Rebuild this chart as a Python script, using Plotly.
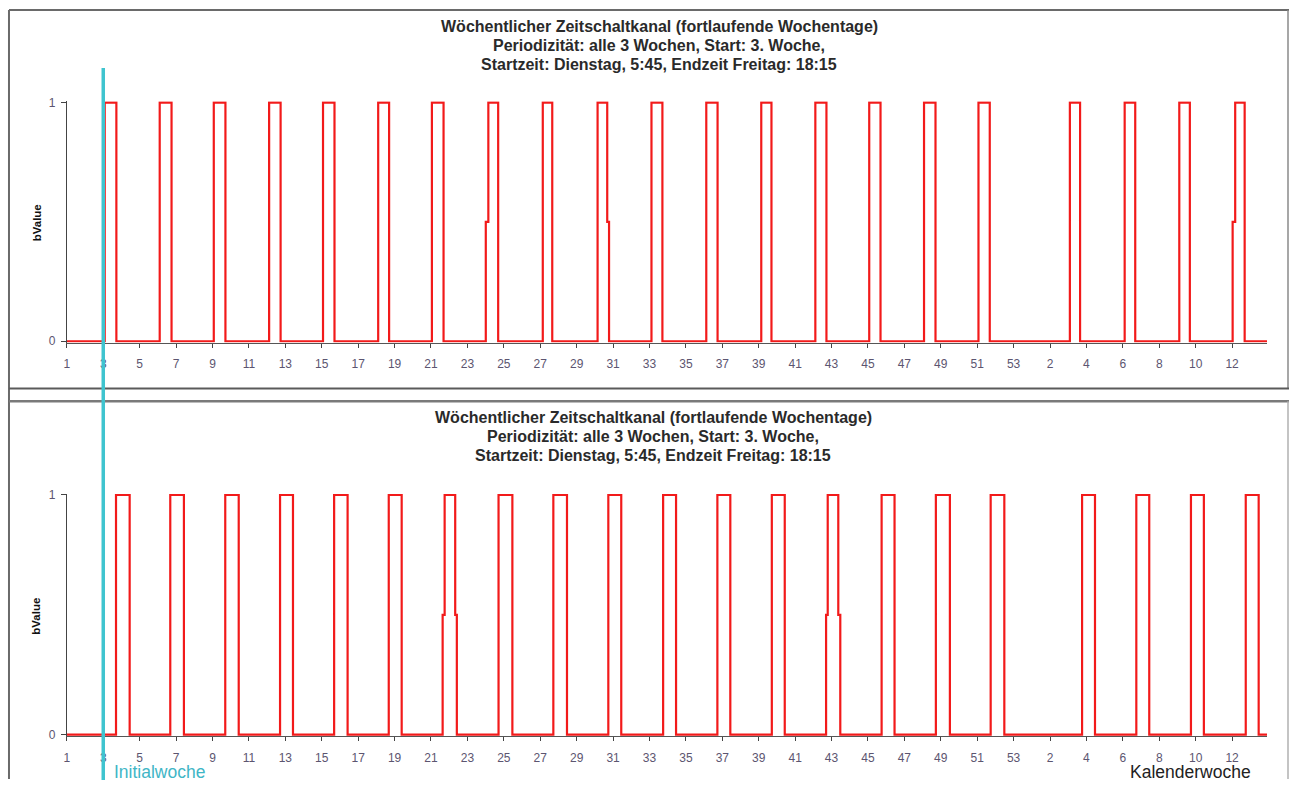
import plotly.graph_objects as go

W, H = 1289, 785

# Calendar-week axis: continuous week index, the year wraps after week 53
tick_vals = list(range(1, 66, 2))
tick_text = [str(v) for v in range(1, 54, 2)] + [str(v) for v in range(2, 13, 2)]
x_end = 66.92

title_lines = [
    "Wöchentlicher Zeitschaltkanal (fortlaufende Wochentage)",
    "Periodizität: alle 3 Wochen, Start: 3. Woche,",
    "Startzeit: Dienstag, 5:45, Endzeit Freitag: 18:15",
]

# Upper channel: switch-on / switch-off edges (week index)
top_rise_low = [3.08, 6.10, 9.07, 12.11, 15.07, 18.10, 21.05, 24.01, 27.14, 30.15, 33.11,
                36.12, 39.14, 42.11, 45.07, 48.08, 51.07, 56.09, 59.10, 62.10, 65.03]
top_rise_high = [3.08, 6.10, 9.07, 12.11, 15.07, 18.10, 21.05, 24.15, 27.14, 30.15, 33.11,
                 36.12, 39.14, 42.11, 45.07, 48.08, 51.07, 56.09, 59.10, 62.10, 65.17]
top_fall_high = [3.72, 6.75, 9.71, 12.74, 15.70, 18.70, 21.69, 24.69, 27.66, 30.68, 33.71,
                 36.74, 39.70, 42.72, 45.69, 48.71, 51.69, 56.65, 59.68, 62.68, 65.69]
top_fall_low = [3.72, 6.75, 9.71, 12.74, 15.70, 18.70, 21.69, 24.69, 27.66, 30.78, 33.71,
                36.74, 39.70, 42.72, 45.69, 48.71, 51.69, 56.65, 59.68, 62.68, 65.69]

# Lower channel
bot_rise_low = [3.70, 6.68, 9.70, 12.71, 15.68, 18.68, 21.64, 24.71, 27.72, 30.74, 33.75,
                36.73, 39.72, 42.70, 45.75, 48.73, 51.74, 56.76, 59.74, 62.74, 65.75]
bot_rise_high = [3.70, 6.68, 9.70, 12.71, 15.68, 18.68, 21.75, 24.71, 27.72, 30.74, 33.75,
                 36.73, 39.72, 42.79, 45.75, 48.73, 51.74, 56.76, 59.74, 62.74, 65.75]
bot_fall_high = [4.45, 7.43, 10.44, 13.42, 16.42, 19.39, 22.33, 25.47, 28.47, 31.45, 34.46,
                 37.44, 40.43, 43.37, 46.46, 49.50, 52.49, 57.47, 60.45, 63.45, 66.46]
bot_fall_low = [4.45, 7.43, 10.44, 13.42, 16.42, 19.39, 22.42, 25.47, 28.47, 31.45, 34.46,
                37.44, 40.43, 43.48, 46.46, 49.50, 52.49, 57.47, 60.45, 63.45, 66.46]

initial_week = 3


def step_signal(rl, rh, fh, fl):
    xs, ys = [1], [0]
    for a, b, c, d in zip(rl, rh, fh, fl):
        xs += [a, a, b, b, c, c, d, d]
        ys += [0, 0.5, 0.5, 1, 1, 0.5, 0.5, 0]
    xs.append(x_end)
    ys.append(0)
    return xs, ys


def px(x):
    return x / W


def py(y):
    return 1 - y / H


fig = go.Figure()

RED = "#f21a1a"
panels = [
    ("x", "y", step_signal(top_rise_low, top_rise_high, top_fall_high, top_fall_low)),
    ("x2", "y2", step_signal(bot_rise_low, bot_rise_high, bot_fall_high, bot_fall_low)),
]
for xa, ya, (xs, ys) in panels:
    fig.add_trace(go.Scatter(x=xs, y=ys, xaxis=xa, yaxis=ya, mode="lines",
                             line=dict(color=RED, width=2.2), hoverinfo="skip",
                             showlegend=False))

x_dom = [px(64), px(1267)]
top_dom = [py(342.5), py(97.5)]
bot_dom = [py(741.5), py(495.5)]

tick_font = dict(family="Liberation Sans, Arial", size=12, color="#5c5570")
xaxis_common = dict(range=[1, x_end], tickmode="array", tickvals=tick_vals, ticktext=tick_text,
                    showline=True, linecolor="#555555", linewidth=1, ticks="outside",
                    ticklen=4, tickcolor="#444444", showgrid=False, zeroline=False,
                    tickfont=tick_font, ticklabelstandoff=6, fixedrange=True)
yaxis_common = dict(range=[-0.006, 1.006], tickmode="array", tickvals=[0, 1],
                    ticktext=["0", "1"], showline=True, linecolor="#444444", linewidth=1,
                    ticks="outside", ticklen=5, tickcolor="#444444", showgrid=False,
                    zeroline=False, tickfont=tick_font, ticklabelstandoff=3, fixedrange=True)

fig.update_layout(
    width=W, height=H,
    margin=dict(l=0, r=0, t=0, b=0),
    paper_bgcolor="white", plot_bgcolor="white",
    xaxis=dict(domain=x_dom, anchor="y", **xaxis_common),
    yaxis=dict(domain=top_dom, anchor="x", **yaxis_common),
    xaxis2=dict(domain=x_dom, anchor="y2", **xaxis_common),
    yaxis2=dict(domain=bot_dom, anchor="x2", **yaxis_common),
    showlegend=False,
)

# Panel frames and separator
frame = dict(type="line", xref="paper", yref="paper", layer="above")
frame_lines = [
    ((6, 5), (1289, 5), "#6a6a6a", 2),
    ((6, 5), (6, 785), "#6a6a6a", 2),
    ((1288, 5), (1288, 389), "#8a8a8a", 1.5),
    ((6, 389), (1289, 389), "#5a5a5a", 2),
    ((6, 402), (1289, 402), "#7a7a7a", 2.5),
    ((1288, 402), (1288, 785), "#b0b0b0", 1.5),
]
for (x0, y0), (x1, y1), c, w in frame_lines:
    fig.add_shape(**frame, x0=px(x0), y0=py(y0), x1=px(x1), y1=py(y1),
                  line=dict(color=c, width=w))

# Marker for the initial week across both panels
fig.add_shape(type="line", xref="x", yref="paper", x0=initial_week, x1=initial_week,
              y0=py(64), y1=py(786), line=dict(color="#3fc4cf", width=3.5), layer="above")

title_font = dict(family="Liberation Sans, Arial", size=16, color="#2a2a2a")
for cx, ys in [(658, [21.5, 41.5, 60.5]), (652, [418.5, 438, 457])]:
    for line, yy in zip(title_lines, ys):
        fig.add_annotation(text=f"<b>{line}</b>", xref="paper", yref="paper",
                           x=px(cx), y=py(yy), xanchor="center", yanchor="middle",
                           showarrow=False, font=title_font)

for yy in (221, 620):
    fig.add_annotation(text="<b>bValue</b>", xref="paper", yref="paper", x=px(33.5), y=py(yy),
                       xanchor="center", yanchor="middle", textangle=-90, showarrow=False,
                       font=dict(family="Liberation Sans, Arial", size=11.5, color="#111111"))

bottom_label_font = dict(family="Liberation Sans, Arial", size=17.5)
fig.add_annotation(text="Initialwoche", xref="paper", yref="paper", x=px(109), y=py(777.5),
                   xanchor="left", yanchor="middle", showarrow=False,
                   font=dict(color="#3fb6c6", **bottom_label_font))
fig.add_annotation(text="Kalenderwoche", xref="paper", yref="paper", x=px(1253), y=py(777.5),
                   xanchor="right", yanchor="middle", showarrow=False,
                   font=dict(color="#222222", **bottom_label_font))

fig.write_html("out.html")
